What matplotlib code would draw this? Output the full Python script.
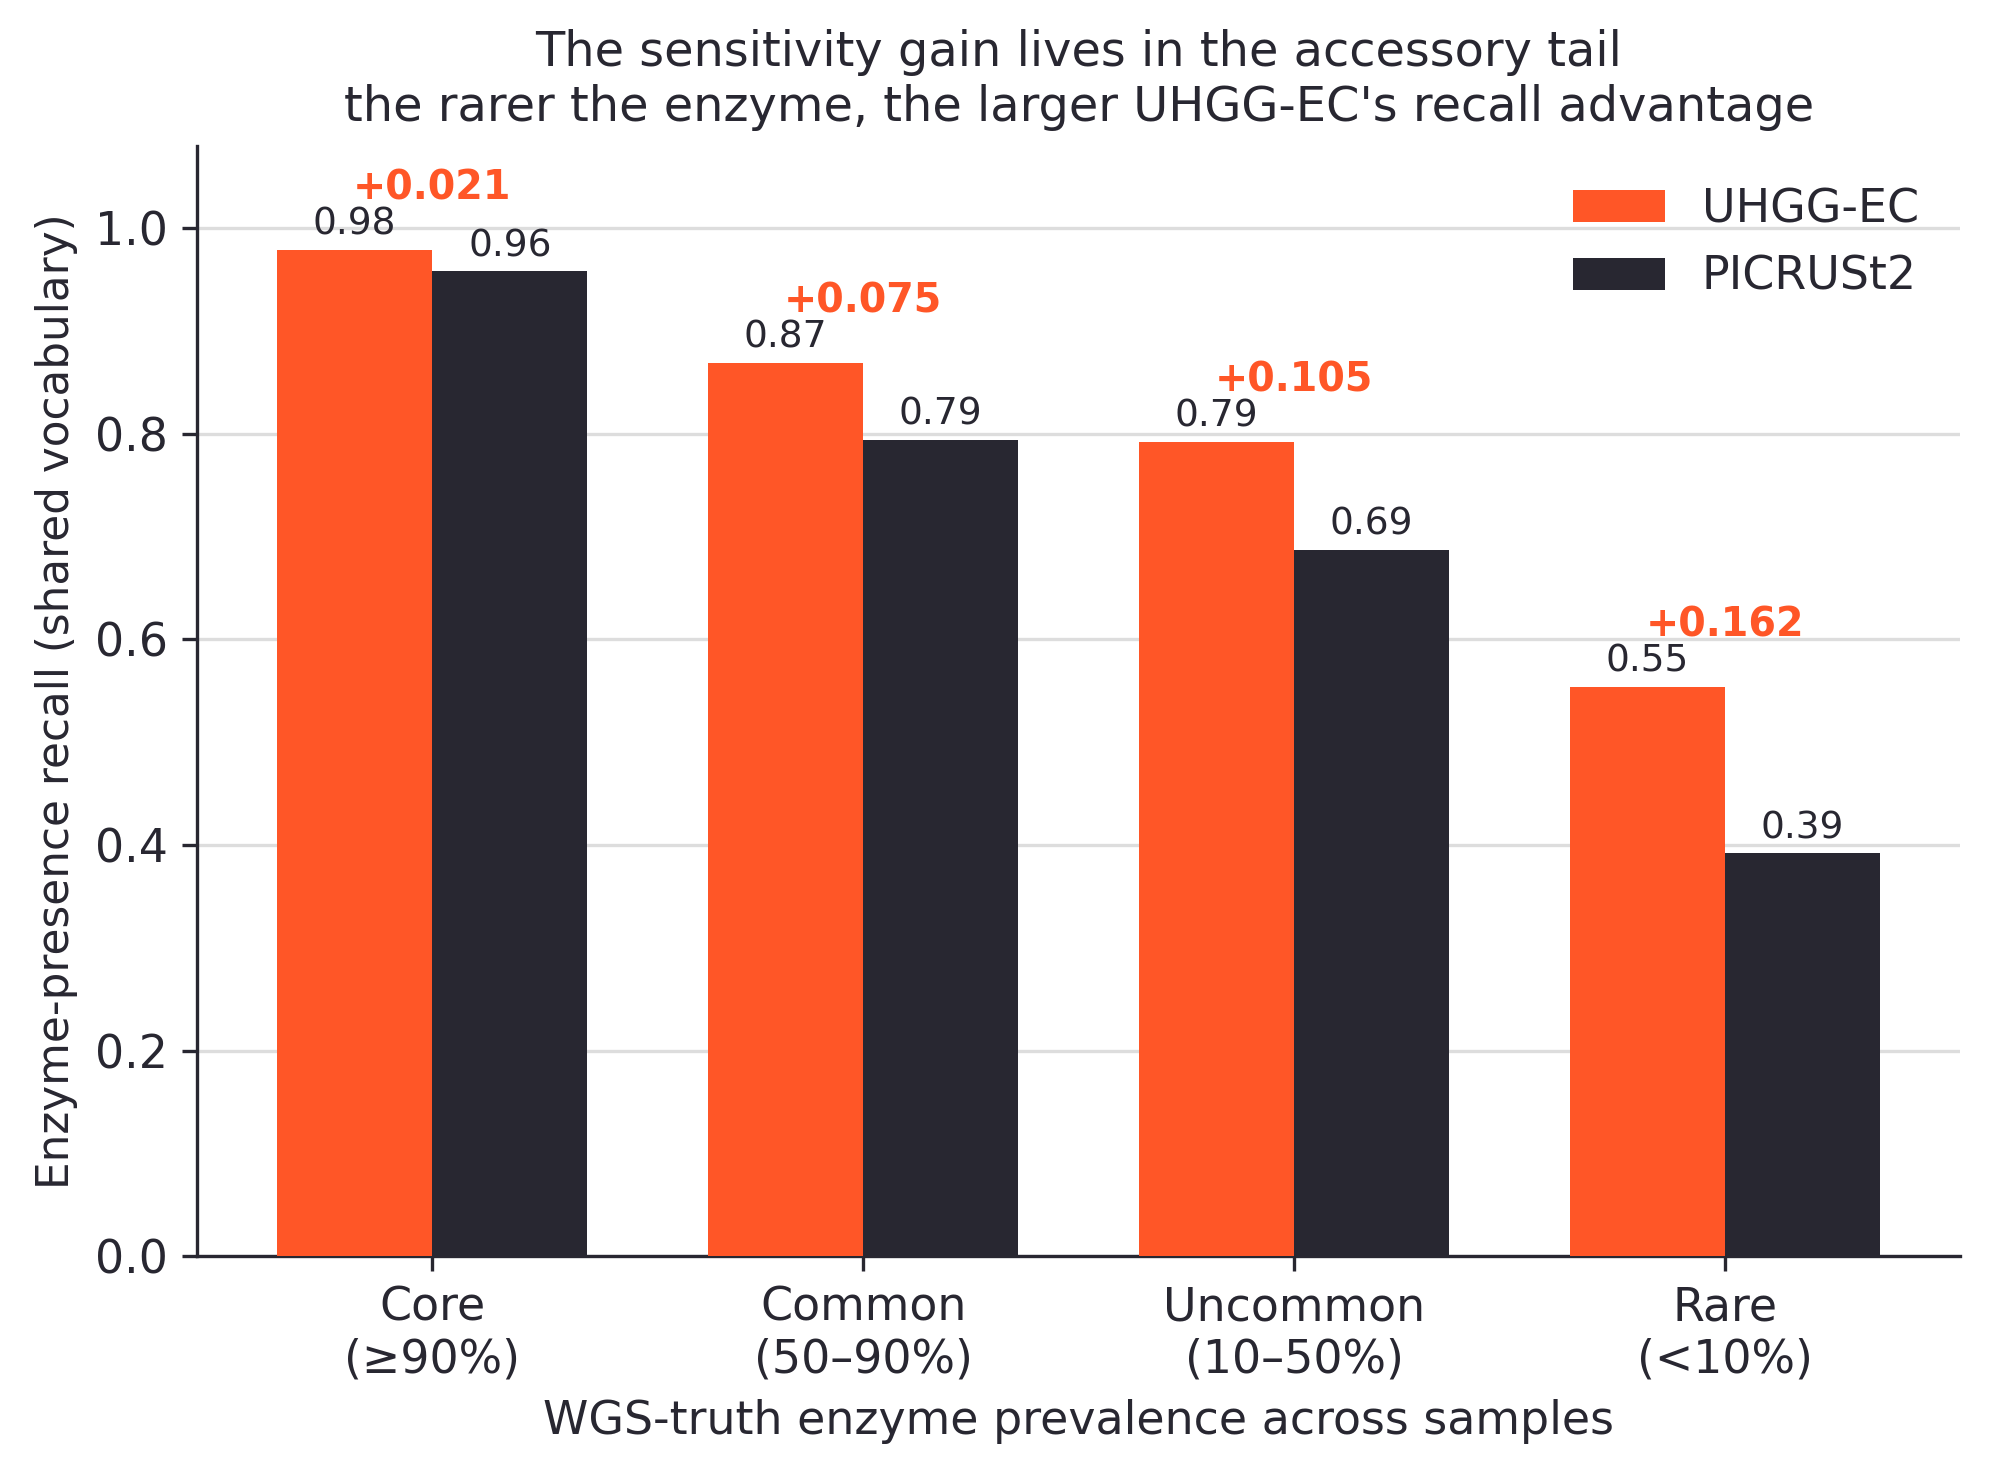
import numpy as np
import matplotlib.pyplot as plt

# Recall by WGS-truth prevalence tier
categories = ['Core\n(≥90%)', 'Common\n(50–90%)', 'Uncommon\n(10–50%)', 'Rare\n(<10%)']
uhgg_recall = [0.979, 0.869, 0.792, 0.554]
picrust_recall = [0.958, 0.794, 0.687, 0.392]

ORANGE = '#FF5627'
DARK = '#282731'

plt.rcParams['font.family'] = 'DejaVu Sans'
plt.rcParams['text.color'] = DARK
plt.rcParams['axes.labelcolor'] = DARK
plt.rcParams['xtick.color'] = DARK
plt.rcParams['ytick.color'] = DARK

fig, ax = plt.subplots(figsize=(1990 / 300, 1473 / 300), dpi=300)
fig.subplots_adjust(left=0.099, right=0.985, top=0.901, bottom=0.147)

x = np.arange(len(categories))
w = 0.36
b1 = ax.bar(x - w / 2, uhgg_recall, w, color=ORANGE, label='UHGG-EC', zorder=3)
b2 = ax.bar(x + w / 2, picrust_recall, w, color=DARK, label='PICRUSt2', zorder=3)

# value labels
for bars in (b1, b2):
    for b in bars:
        h = b.get_height()
        ax.text(b.get_x() + b.get_width() / 2, h + 0.007, f'{h:.2f}',
                ha='center', va='bottom', fontsize=9, color=DARK)

# recall gain above each group
for i in range(len(categories)):
    gain = uhgg_recall[i] - picrust_recall[i]
    top = max(uhgg_recall[i], picrust_recall[i])
    ax.text(x[i], top + 0.04, f'+{gain:.3f}', ha='center', va='bottom',
            fontsize=9.5, fontweight='bold', color=ORANGE)

ax.set_xticks(x)
ax.set_xticklabels(categories, fontsize=11)
ax.tick_params(axis='y', labelsize=11)
ax.set_ylim(0, 1.08)
ax.set_yticks([0.0, 0.2, 0.4, 0.6, 0.8, 1.0])
ax.yaxis.grid(True, color='#DDDDDD', linewidth=0.8, zorder=0)
ax.set_axisbelow(True)
for s in ('top', 'right'):
    ax.spines[s].set_visible(False)
ax.spines['left'].set_color(DARK)
ax.spines['bottom'].set_color(DARK)

ax.set_xlabel('WGS-truth enzyme prevalence across samples', fontsize=11)
ax.set_ylabel('Enzyme-presence recall (shared vocabulary)', fontsize=10.5)
ax.set_title("The sensitivity gain lives in the accessory tail\n"
             "the rarer the enzyme, the larger UHGG-EC's recall advantage",
             fontsize=11.5)
ax.legend(frameon=False, fontsize=11, loc='upper right')

plt.savefig('out.png', dpi=300)
